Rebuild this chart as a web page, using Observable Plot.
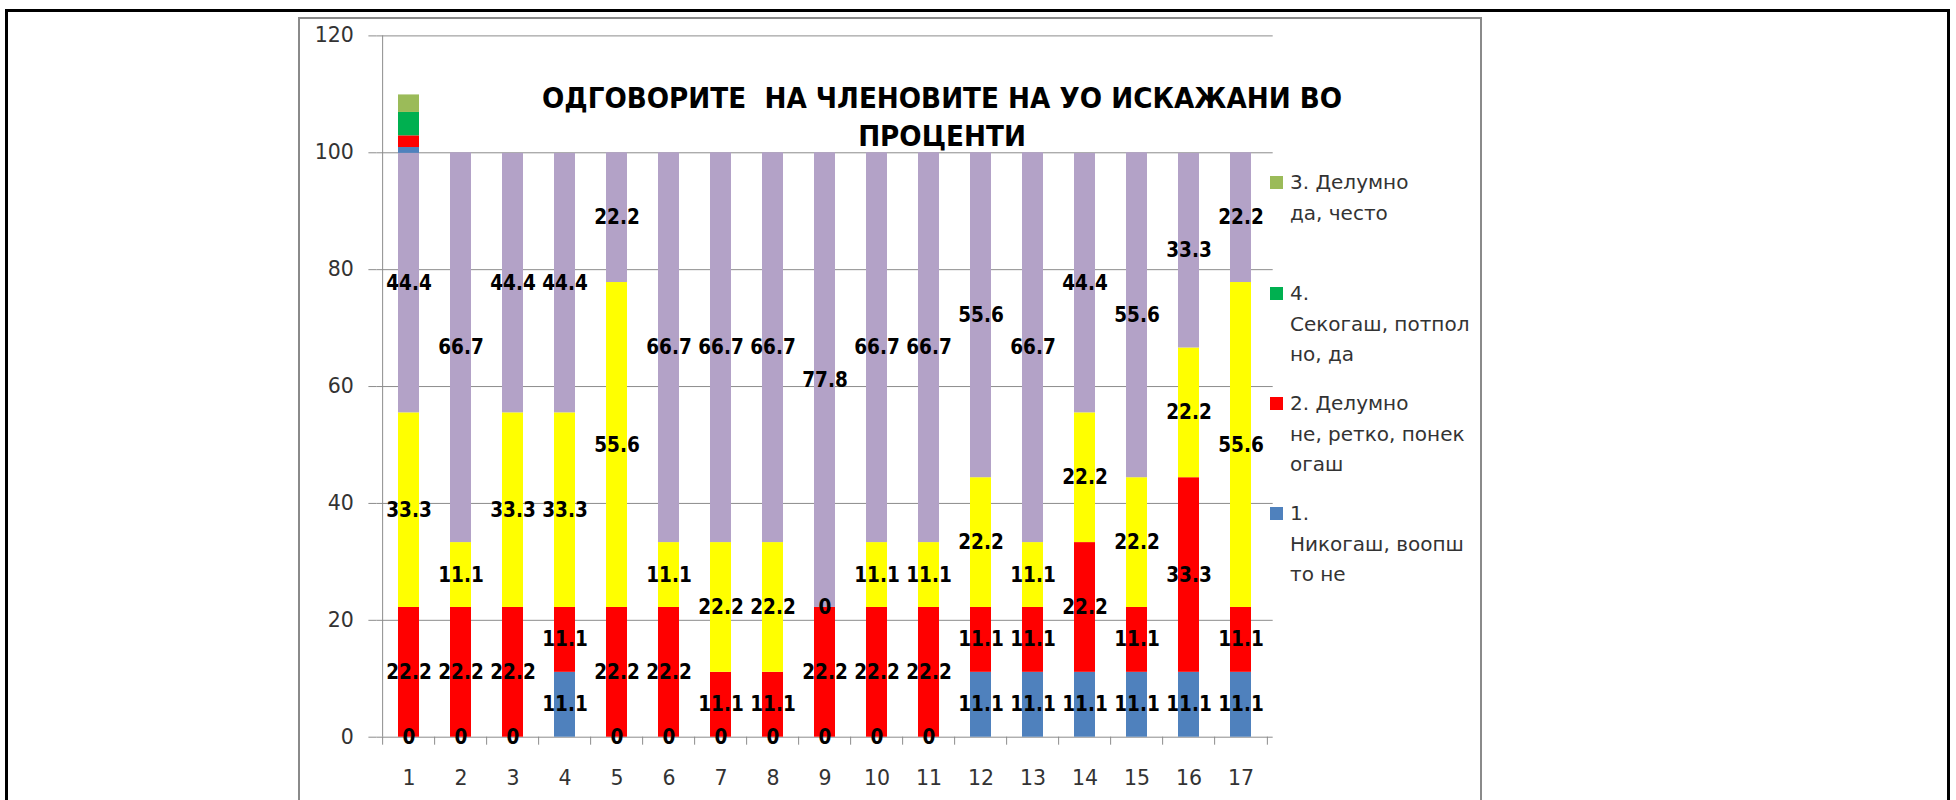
<!DOCTYPE html>
<html>
<head>
<meta charset="utf-8">
<script src="https://cdn.jsdelivr.net/npm/d3@7"></script>
<script src="https://cdn.jsdelivr.net/npm/@observablehq/plot@0.6"></script>
<style>
  body { margin: 0; background: #fff; }
  #wrap { position: relative; width: 1956px; height: 800px; overflow: hidden; background: #fff;
          font-family: "DejaVu Sans", sans-serif; }
  .outer { position: absolute; left: 5px; top: 9px; width: 1945px; height: 900px; border: 3px solid #000; box-sizing: border-box; }
  .box { position: absolute; left: 298px; top: 17px; width: 1184px; height: 900px; border: 2px solid #8a8a8a; box-sizing: border-box; }
  #chart { position: absolute; left: 0; top: 0; }
  .title { position: absolute; left: 542px; width: 800px; top: 79px; text-align: center; font-weight: bold;
           font-family: "DejaVu Sans Condensed", "DejaVu Sans", sans-serif; font-stretch: condensed;
           font-size: 29.2px; line-height: 38px; color: #000; white-space: pre; }
  .leg { position: absolute; left: 1270px; font-size: 20px; line-height: 30.5px; color: #333; }
  .leg .sw { position: absolute; left: 0; top: 9px; width: 13px; height: 13px; }
  .leg .tx { position: absolute; left: 20px; top: 0; white-space: pre; }
</style>
</head>
<body>
<div id="wrap">
  <div class="outer"></div>
  <div class="box"></div>
  <div id="chart"></div>
  <div class="title" id="title"></div>
  <div id="legend"></div>
</div>
<script>
// ---- data ----
const categories = ["1","2","3","4","5","6","7","8","9","10","11","12","13","14","15","16","17"];
const seriesKeys = ["Никогаш", "Делумно не", "Делумно да", "Секогаш", "1.", "2.", "4.", "3."];
const blueValues   = [0, 0, 0, 11.1, 0, 0, 0, 0, 0, 0, 0, 11.1, 11.1, 11.1, 11.1, 11.1, 11.1];
const redValues    = [22.2, 22.2, 22.2, 11.1, 22.2, 22.2, 11.1, 11.1, 22.2, 22.2, 22.2, 11.1, 11.1, 22.2, 11.1, 33.3, 11.1];
const yellowValues = [33.3, 11.1, 33.3, 33.3, 55.6, 11.1, 22.2, 22.2, 0, 11.1, 11.1, 22.2, 11.1, 22.2, 22.2, 22.2, 55.6];
const purpleValues = [44.4, 66.7, 44.4, 44.4, 22.2, 66.7, 66.7, 66.7, 77.8, 66.7, 66.7, 55.6, 66.7, 44.4, 55.6, 33.3, 22.2];
// header codes that were charted on top of the first bar
const codeCategory = "1";
const codeValues = [1, 2, 4, 3];
const yTicks = [0, 20, 40, 60, 80, 100, 120];
const titleText = "ОДГОВОРИТЕ  НА ЧЛЕНОВИТЕ НА УО ИСКАЖАНИ ВО\nПРОЦЕНТИ";
const legendLabels = ["3. Делумно\nда, често", "4.\nСекогаш, потпол\nно, да", "2. Делумно\nне, ретко, понек\nогаш", "1.\nНикогаш, воопш\nто не"];

// ---- styles ----
const seriesColors = ["#4f81bd", "#ff0000", "#ffff00", "#b3a2c7", "#4f81bd", "#ff0000", "#00b050", "#9bbb59"];
const legendColors = ["#9bbb59", "#00b050", "#ff0000", "#4f81bd"];
const legendTops = [167, 278, 388, 498];

// ---- build table ----
const mainValues = [blueValues, redValues, yellowValues, purpleValues];
const rows = [];
categories.forEach((c, i) => {
  mainValues.forEach((vals, j) => rows.push({cat: c, series: seriesKeys[j], value: vals[i], labeled: true}));
  if (c === codeCategory) {
    codeValues.forEach((v, k) => rows.push({cat: c, series: seriesKeys[4 + k], value: v, labeled: false}));
  }
});

const W = 1956, H = 800;
const mL = 376.4, mR = 683.3, mT = 35.4, mB = 63.3;
const step = (W - mL - mR) / categories.length;
const font = '"DejaVu Sans", sans-serif';
const labelFont = '"DejaVu Sans Condensed", "DejaVu Sans", sans-serif';

const stackOpts = {x: "cat", y: "value", z: "series", order: null};

const plot = Plot.plot({
  width: W, height: H,
  marginLeft: mL, marginRight: mR, marginTop: mT, marginBottom: mB,
  x: {domain: categories, paddingInner: 0.6, paddingOuter: 0.3, label: null},
  y: {domain: [0, 120], label: null},
  color: {domain: seriesKeys, range: seriesColors},
  style: {fontFamily: font, background: "transparent", color: "#333", overflow: "visible"},
  marks: [
    Plot.gridY(yTicks, {stroke: "#8c8c8c", strokeOpacity: 1, strokeWidth: 1}),
    Plot.axisY({ticks: yTicks, tickSize: 8, tickPadding: 15, stroke: "#8c8c8c", fontSize: 20.5, label: null}),
    Plot.barY(rows, Plot.stackY({...stackOpts, fill: "series"})),
    Plot.ruleX([categories[0]], {x: d => d, y1: 0, y2: 120, dx: -step / 2, stroke: "#8c8c8c"}),
    Plot.ruleX(categories, {x: d => d, y1: 0, y2: 0, dx: -step / 2, insetBottom: -8, stroke: "#8c8c8c"}),
    Plot.ruleX([categories[categories.length - 1]], {x: d => d, y1: 0, y2: 0, dx: step / 2, insetBottom: -8, stroke: "#8c8c8c"}),
    Plot.axisX({tickSize: 0, tickPadding: 33, fontSize: 20.5, label: null}),
    Plot.text(rows, Plot.stackY({...stackOpts, text: d => d.labeled ? String(d.value) : null,
      fill: "#000", fontWeight: "bold", fontSize: 20.5, fontFamily: labelFont, fontStretch: "condensed"}))
  ]
});
document.getElementById("chart").appendChild(plot);

document.getElementById("title").textContent = titleText;

const leg = document.getElementById("legend");
legendLabels.forEach((lab, i) => {
  const d = document.createElement("div");
  d.className = "leg";
  d.style.top = legendTops[i] + "px";
  const sw = document.createElement("div");
  sw.className = "sw";
  sw.style.background = legendColors[i];
  const tx = document.createElement("div");
  tx.className = "tx";
  tx.textContent = lab;
  d.appendChild(sw); d.appendChild(tx);
  leg.appendChild(d);
});
</script>
</body>
</html>
